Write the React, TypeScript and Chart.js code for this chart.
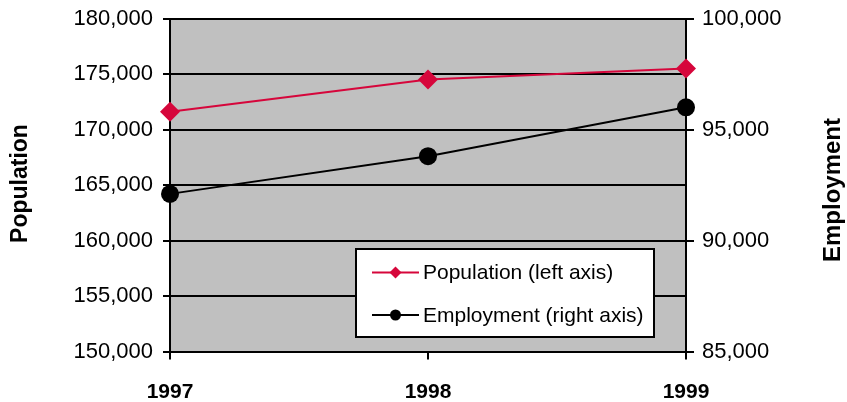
import React, { useEffect, useRef } from "react";
import { Chart, registerables } from "chart.js";

Chart.register(...registerables);

const years = ["1997", "1998", "1999"];
const population = [171600, 174500, 175500];
const employment = [92100, 93800, 96000];
const populationLabel = "Population (left axis)";
const employmentLabel = "Employment (right axis)";
const leftTitle = "Population";
const rightTitle = "Employment";

const FONT = "'Liberation Sans', Arial, sans-serif";
const RED = "#d6063b";

const fmt = (v: number | string) => Number(v).toLocaleString("en-US");

const bgPlugin = {
  id: "plotBg",
  beforeDraw(chart: any) {
    const { ctx, chartArea: a } = chart;
    ctx.save();
    ctx.fillStyle = "#c0c0c0";
    ctx.fillRect(a.left, a.top, a.right - a.left, a.bottom - a.top);
    ctx.restore();
  },
};

const overlayPlugin = {
  id: "overlay",
  afterDraw(chart: any) {
    const { ctx } = chart;
    ctx.save();
    // axis titles
    ctx.fillStyle = "#000";
    ctx.textAlign = "center";
    ctx.textBaseline = "middle";
    ctx.font = `bold 23px ${FONT}`;
    ctx.translate(21, 183.5);
    ctx.rotate(-Math.PI / 2);
    ctx.fillText(leftTitle, 0, 0);
    ctx.setTransform(1, 0, 0, 1, 0, 0);
    ctx.font = `bold 24px ${FONT}`;
    ctx.translate(833, 190);
    ctx.rotate(-Math.PI / 2);
    ctx.fillText(rightTitle, 0, 0);
    ctx.setTransform(1, 0, 0, 1, 0, 0);
    ctx.restore();

    // legend box
    ctx.save();
    const bx = 356, by = 249, bw = 298, bh = 88;
    ctx.fillStyle = "#fff";
    ctx.fillRect(bx, by, bw, bh);
    ctx.strokeStyle = "#000";
    ctx.lineWidth = 2;
    ctx.strokeRect(bx, by, bw, bh);
    const rows = chart.data.datasets.map((ds: any, i: number) => ({
      ds,
      y: i === 0 ? 272.5 : 315,
    }));
    rows.forEach(({ ds, y }: any) => {
      ctx.strokeStyle = ds.borderColor;
      ctx.lineWidth = 2;
      ctx.beginPath();
      ctx.moveTo(372, y);
      ctx.lineTo(419, y);
      ctx.stroke();
      ctx.fillStyle = ds.borderColor;
      ctx.beginPath();
      if (ds.pointStyle === "rectRot") {
        const r = 6;
        ctx.moveTo(395.5, y - r);
        ctx.lineTo(395.5 + r, y);
        ctx.lineTo(395.5, y + r);
        ctx.lineTo(395.5 - r, y);
        ctx.closePath();
      } else {
        ctx.arc(395.5, y, 5.5, 0, Math.PI * 2);
      }
      ctx.fill();
      ctx.fillStyle = "#000";
      ctx.font = `21px ${FONT}`;
      ctx.textAlign = "left";
      ctx.textBaseline = "middle";
      ctx.fillText(ds.label, 423, y + 1);
    });
    ctx.restore();
  },
};

export default function App() {
  const ref = useRef<HTMLCanvasElement | null>(null);
  useEffect(() => {
    document.body.style.margin = "0";
    const chart = new Chart(ref.current as HTMLCanvasElement, {
      type: "line",
      data: {
        labels: years,
        datasets: [
          {
            label: populationLabel,
            data: population,
            yAxisID: "y",
            borderColor: RED,
            backgroundColor: RED,
            borderWidth: 2,
            pointStyle: "rectRot",
            pointRadius: 10,
            pointBorderWidth: 0,
            tension: 0,
          },
          {
            label: employmentLabel,
            data: employment,
            yAxisID: "y1",
            borderColor: "#000000",
            backgroundColor: "#000000",
            borderWidth: 2,
            pointStyle: "circle",
            pointRadius: 9,
            pointBorderWidth: 0,
            tension: 0,
          },
        ],
      },
      options: {
        animation: false,
        responsive: false,
        devicePixelRatio: 1,
        layout: { padding: { top: 18.5, bottom: 0, left: 0, right: 0 } },
        plugins: {
          legend: { display: false },
          tooltip: { enabled: false },
        },
        scales: {
          x: {
            type: "category",
            offset: false,
            afterFit: (s: any) => {
              s.height = 50.5;
              s.paddingLeft = 0;
              s.paddingRight = 0;
            },
            grid: {
              drawOnChartArea: false,
              drawTicks: true,
              tickLength: 8,
              color: "#000",
              lineWidth: 2,
            },
            border: { display: true, color: "#000", width: 2 },
            ticks: {
              color: "#000",
              padding: 20,
              font: { family: FONT, size: 21, weight: "bold" },
              maxRotation: 0,
            },
          },
          y: {
            position: "left",
            min: 150000,
            max: 180000,
            afterFit: (s: any) => {
              s.width = 170;
              s.paddingTop = 0;
              s.paddingBottom = 0;
            },
            grid: {
              drawOnChartArea: true,
              drawTicks: true,
              tickLength: 7,
              color: "#000",
              lineWidth: 2,
            },
            border: { display: true, color: "#000", width: 2 },
            ticks: {
              stepSize: 5000,
              color: "#000",
              padding: 10,
              font: { family: FONT, size: 22 },
              callback: (v: any) => fmt(v),
            },
          },
          y1: {
            position: "right",
            min: 85000,
            max: 100000,
            afterFit: (s: any) => {
              s.width = 161;
              s.paddingTop = 0;
              s.paddingBottom = 0;
            },
            grid: {
              drawOnChartArea: false,
              drawTicks: true,
              tickLength: 8,
              color: "#000",
              lineWidth: 2,
            },
            border: { display: true, color: "#000", width: 2 },
            ticks: {
              stepSize: 5000,
              color: "#000",
              padding: 8,
              font: { family: FONT, size: 22 },
              callback: (v: any) => fmt(v),
            },
          },
        },
      },
      plugins: [bgPlugin, overlayPlugin],
    } as any);
    return () => chart.destroy();
  }, []);
  return (
    <div style={{ position: "absolute", left: 0, top: 0, width: 847, height: 402 }}>
      <canvas ref={ref} width={847} height={402} style={{ width: 847, height: 402, display: "block" }} />
    </div>
  );
}
